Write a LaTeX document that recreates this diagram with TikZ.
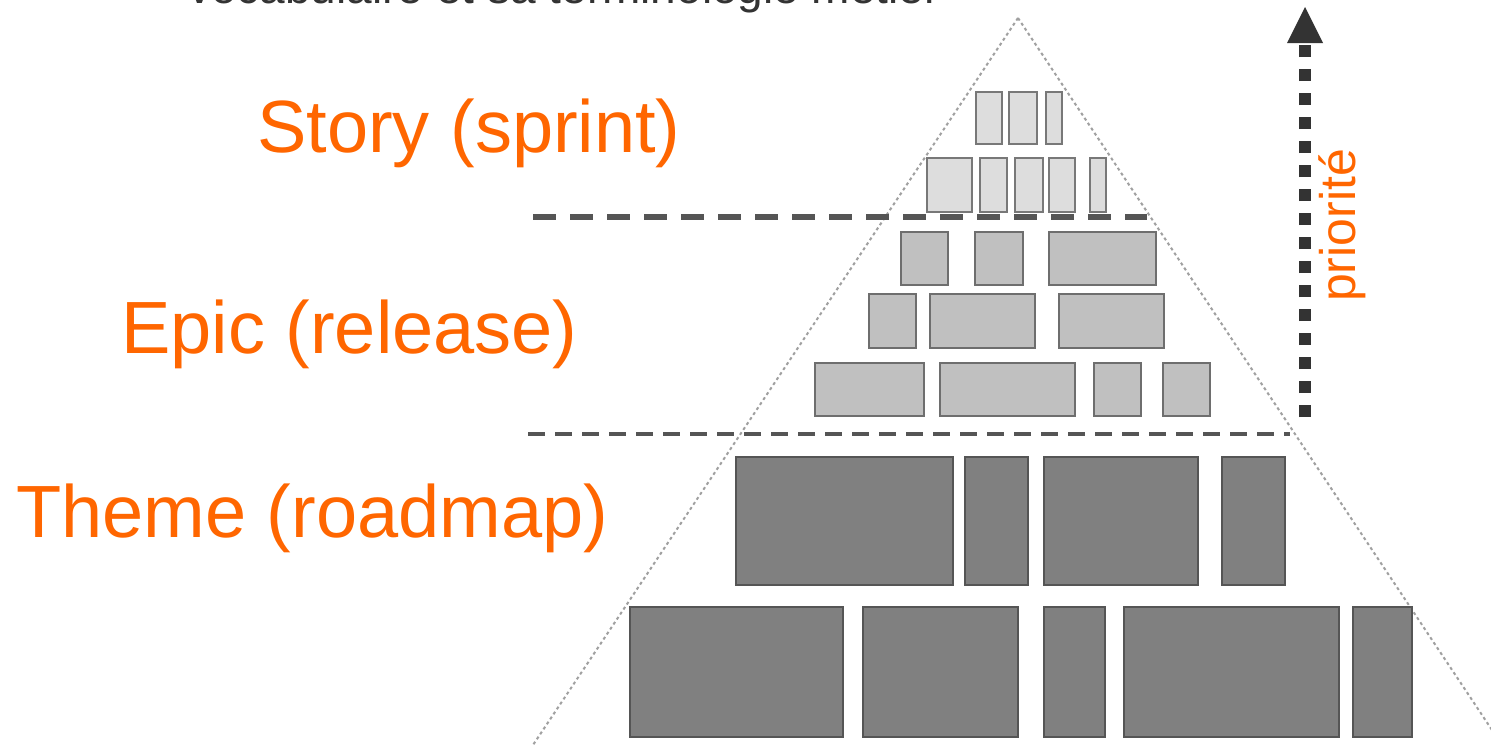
\documentclass[tikz,border=0pt]{standalone}
\usepackage{fontspec}
\setmainfont{Liberation Sans}
\definecolor{orng}{RGB}{255,102,0}
\definecolor{titlegray}{RGB}{51,51,51}
\definecolor{dotgray}{RGB}{160,160,160}
\definecolor{dashgray}{RGB}{85,85,85}
\definecolor{arrowgray}{RGB}{51,51,51}
\definecolor{storyfill}{RGB}{221,221,221}
\definecolor{storyedge}{RGB}{120,120,120}
\definecolor{epicfill}{RGB}{192,192,192}
\definecolor{epicedge}{RGB}{110,110,110}
\definecolor{themefill}{RGB}{128,128,128}
\definecolor{themeedge}{RGB}{85,85,85}
\newcommand\pbox[6]{\node[#2, minimum width={#5-#3}, minimum height={#6-#4}] (#1) at (#3,#4) {};}
\begin{document}
\begin{tikzpicture}[x=1pt,y=-1pt,
  lbl/.style={text=orng, font=\fontsize{74}{80}\selectfont, inner sep=0pt, anchor=base west},
  boxbase/.style={line width=2pt, inner sep=0pt, outer sep=0pt, anchor=north west, rectangle},
  storybox/.style={boxbase, draw=storyedge, fill=storyfill},
  epicbox/.style={boxbase, draw=epicedge, fill=epicfill},
  themebox/.style={boxbase, draw=themeedge, fill=themefill},
  pyrline/.style={draw=dotgray, line width=2pt, dash pattern=on 3pt off 3pt},
  sepline/.style={draw=dashgray},
  prio/.style={draw=arrowgray, line width=12pt, dash pattern=on 12pt off 12pt}]
\clip (0,0) rectangle (1491,745);
\fill[white] (0,0) rectangle (1491,745);
% title (cut at top)
\node[anchor=base west, inner sep=0pt, text=titlegray, font=\fontsize{46}{50}\selectfont] (title) at (188,3) {vocabulaire et sa terminologie métier};
% pyramid outline
\coordinate (apex) at (1018,18);
\coordinate (bl) at (533,745);
\coordinate (br) at (1502,745);
\draw[pyrline] (apex) -- (bl);
\draw[pyrline] (apex) -- (br);
% story boxes
\pbox{s1}{storybox}{976}{92}{1002}{144}
\pbox{s2}{storybox}{1009}{92}{1037}{144}
\pbox{s3}{storybox}{1046}{92}{1062}{144}
\pbox{s4}{storybox}{927}{158}{972}{212}
\pbox{s5}{storybox}{980}{158}{1007}{212}
\pbox{s6}{storybox}{1015}{158}{1043}{212}
\pbox{s7}{storybox}{1049}{158}{1075}{212}
\pbox{s8}{storybox}{1090}{158}{1106}{212}
% epic boxes
\pbox{e1}{epicbox}{901}{232}{948}{285}
\pbox{e2}{epicbox}{975}{232}{1023}{285}
\pbox{e3}{epicbox}{1049}{232}{1156}{285}
\pbox{e4}{epicbox}{869}{294}{916}{348}
\pbox{e5}{epicbox}{930}{294}{1035}{348}
\pbox{e6}{epicbox}{1059}{294}{1164}{348}
\pbox{e7}{epicbox}{815}{363}{924}{416}
\pbox{e8}{epicbox}{940}{363}{1075}{416}
\pbox{e9}{epicbox}{1094}{363}{1141}{416}
\pbox{e10}{epicbox}{1163}{363}{1210}{416}
% theme boxes
\pbox{t1}{themebox}{736}{457}{953}{585}
\pbox{t2}{themebox}{965}{457}{1028}{585}
\pbox{t3}{themebox}{1044}{457}{1198}{585}
\pbox{t4}{themebox}{1222}{457}{1285}{585}
\pbox{t5}{themebox}{630}{607}{843}{737}
\pbox{t6}{themebox}{863}{607}{1018}{737}
\pbox{t7}{themebox}{1044}{607}{1105}{737}
\pbox{t8}{themebox}{1124}{607}{1339}{737}
\pbox{t9}{themebox}{1353}{607}{1412}{737}
% separators
\coordinate (u1) at (533,217);
\coordinate (u2) at (1147,217);
\coordinate (l1) at (528,434);
\coordinate (l2) at (1290,434);
\draw[sepline, line width=6pt, dash pattern=on 23pt off 14pt] (u1) -- (u2);
\draw[sepline, line width=4.5pt, dash pattern=on 17pt off 10pt] (l1) -- (l2);
% labels
\node[lbl] (story) at (257,152) {Story (sprint)};
\node[lbl] (epic) at (121,353) {Epic (release)};
\node[lbl] (theme) at (16,537) {Theme (roadmap)};
% priority arrow
\coordinate (pb) at (1305,417);
\coordinate (pt) at (1305,45);
\coordinate (tip) at (1305,7);
\draw[prio] (pb) -- (pt);
\fill[arrowgray] (tip) -- (1287,43) -- (1323,43) -- cycle;
\node[rotate=90, anchor=base west, inner sep=0pt, text=orng, font=\fontsize{50}{54}\selectfont] (prioLbl) at (1355,302) {priorité};
\end{tikzpicture}
\end{document}
